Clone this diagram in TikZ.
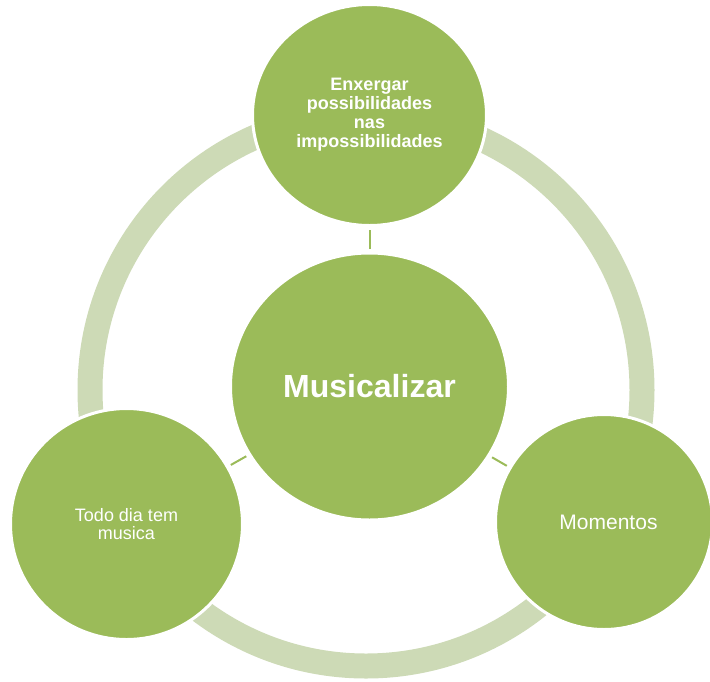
\documentclass[tikz,border=0pt]{standalone}
\usepackage{fontspec}
\setmainfont{Liberation Sans}
\usetikzlibrary{shapes.geometric}
\definecolor{leaf}{RGB}{155,187,89}
\definecolor{pale}{RGB}{205,218,182}
\begin{document}
\begin{tikzpicture}[x=1pt,y=-1pt,
  bubble/.style={ellipse, fill=leaf, draw=white, line width=3pt, inner sep=0pt,
    outer sep=0pt, text=white, align=center},
  link/.style={draw=leaf, line width=2pt, shorten <=4pt, shorten >=4pt}]
\useasboundingbox (0,0) rectangle (710,681);
% background cycle ring
\draw[pale, line width=25pt] (366,390) circle[radius=276pt];
% central idea and the three surrounding bubbles
\node[bubble, minimum width=278pt, minimum height=267pt,
  font=\fontsize{32}{36}\selectfont\bfseries] (hub) at (369.5,386.5) {Musicalizar};
\node[bubble, minimum width=234pt, minimum height=221pt,
  font=\fontsize{18}{19}\selectfont\bfseries] (top) at (369.5,115)
  {Enxergar\\possibilidades\\nas\\impossibilidades};
\node[bubble, minimum width=232pt, minimum height=231pt,
  font=\fontsize{18}{18.5}\selectfont] (left) at (126.5,524) {Todo dia tem\\musica};
\node[bubble, minimum width=217pt, minimum height=215pt,
  font=\fontsize{21}{24}\selectfont] (right) at (604,522) {\hspace*{9pt}Momentos};
% spokes
\draw[link] (hub) -- (top);
\draw[link] (hub) -- (left);
\draw[link] (hub) -- (right);
\end{tikzpicture}
\end{document}
